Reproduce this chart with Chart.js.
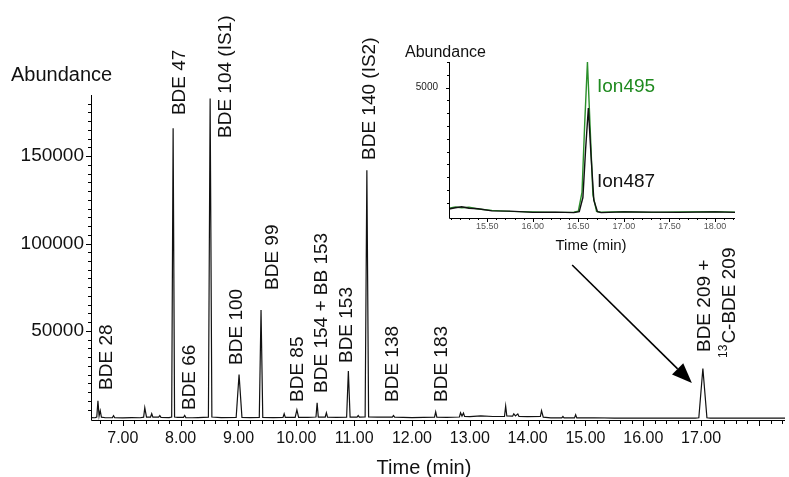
<!DOCTYPE html>
<html>
<head>
<meta charset="utf-8">
<script src="https://cdn.jsdelivr.net/npm/chart.js@4"></script>
<style>
  body { margin: 0; background: #fff; }
  #wrap { position: relative; width: 789px; height: 477px; }
  #mainChart { position: absolute; left: 0; top: 0; }
  #insetChart { position: absolute; left: 400px; top: 30px; }
</style>
</head>
<body>
<div id="wrap">
  <canvas id="mainChart" width="789" height="477"></canvas>
  <canvas id="insetChart" width="345" height="230"></canvas>
</div>
<script>
// main chromatogram (time in min, abundance)
const mainTimes = [
  6.45, 6.52, 6.55, 6.57, 6.59, 6.61, 6.63, 6.70, 6.82, 6.84, 6.86, 7.00, 7.15, 7.30, 7.36, 7.38, 7.41,
  7.48, 7.50, 7.52, 7.62, 7.64, 7.66, 7.80, 7.845, 7.87, 7.895, 7.95, 8.05, 8.07, 8.09, 8.20, 8.30,
  8.48, 8.51, 8.54, 8.70, 8.96, 9.01, 9.06, 9.20, 9.36, 9.39, 9.42, 9.60, 9.77, 9.79, 9.81, 9.98,
  10.01, 10.04, 10.20, 10.34, 10.36, 10.38, 10.50, 10.52, 10.54, 10.70, 10.87, 10.90, 10.93, 11.05,
  11.07, 11.09, 11.19, 11.22, 11.25, 11.40, 11.66, 11.68, 11.70, 12.00, 12.20, 12.39, 12.41, 12.43,
  12.60, 12.82, 12.84, 12.865, 12.89, 12.91, 13.00, 13.19, 13.40, 13.60, 13.62, 13.64, 13.74, 13.76,
  13.79, 13.83, 13.85, 14.00, 14.22, 14.24, 14.27, 14.40, 14.59, 14.61, 14.63, 14.81, 14.83, 14.85,
  15.15, 15.50, 16.00, 16.50, 16.90, 16.96, 17.03, 17.10, 17.16, 17.60, 18.00, 18.45
];
const mainAbundance = [
  400, 300, 700, 10000, 1300, 4300, 600, 300, 400, 1500, 300, 200, 400, 300, 600, 6000, 700,
  700, 2600, 600, 600, 1500, 500, 400, 700, 166000, 700, 500, 500, 1600, 400, 300, 400,
  600, 183000, 700, 400, 500, 25000, 500, 400, 500, 62000, 500, 400, 500, 2600, 500, 500,
  4800, 500, 500, 700, 8800, 700, 700, 3100, 600, 500, 600, 27000, 600, 600,
  1500, 600, 700, 142000, 800, 600, 600, 1500, 600, 400, 500, 600, 3700, 600,
  500, 700, 3100, 1300, 3000, 1000, 900, 1400, 1000, 1100, 7000, 1300, 1200, 2500,
  1300, 2500, 1000, 900, 1000, 4300, 600, 200, 200, 1000, 200, 200, 2000, 200,
  300, 100, 100, 100, 100, 300, 28500, 300, 100, 100, 100, 100
];
const timeTicks = [7, 8, 9, 10, 11, 12, 13, 14, 15, 16, 17];
const abundanceTicks = [50000, 100000, 150000];

// inset: extracted ions around BDE 209
const ion495Times = [15.08, 15.15, 15.22, 15.30, 15.40, 15.55, 15.75, 16.00, 16.25, 16.45, 16.50, 16.54, 16.57, 16.60, 16.63, 16.66, 16.70, 16.75, 17.00, 17.30, 17.60, 18.00, 18.22];
const ion495Abundance = [280, 330, 300, 320, 250, 200, 160, 140, 120, 130, 170, 900, 3600, 6000, 3400, 800, 160, 130, 150, 120, 140, 150, 130];
const ion487Times = [15.08, 15.15, 15.22, 15.30, 15.40, 15.55, 15.75, 16.00, 16.25, 16.45, 16.51, 16.55, 16.58, 16.61, 16.64, 16.67, 16.71, 16.75, 17.00, 17.30, 17.60, 18.00, 18.22];
const ion487Abundance = [250, 300, 340, 280, 260, 180, 170, 120, 130, 110, 150, 700, 2600, 4200, 2300, 600, 150, 110, 140, 130, 120, 140, 120];
const insetTimeTicks = [15.5, 16, 16.5, 17, 17.5, 18];
const insetAbundanceTicks = [5000];

// peak names and where their (rotated) text starts, in data units
const peakLabels = [
  { text: 'BDE 28', t: 6.727, v: 16200 },
  { text: 'BDE 47', t: 7.989, v: 173500 },
  { text: 'BDE 66', t: 8.162, v: 4700 },
  { text: 'BDE 104 (IS1)', t: 8.784, v: 160400 },
  { text: 'BDE 100', t: 8.975, v: 30500 },
  { text: 'BDE 99', t: 9.597, v: 73400 },
  { text: 'BDE 85', t: 10.03, v: 9300 },
  { text: 'BDE 154 + BB 153', t: 10.44, v: 14500 },
  { text: 'BDE 153', t: 10.877, v: 31600 },
  { text: 'BDE 140 (IS2)', t: 11.274, v: 147800 },
  { text: 'BDE 138', t: 11.672, v: 9300 },
  { text: 'BDE 183', t: 12.52, v: 9300 },
  { text: 'BDE 209 +', t: 17.067, v: 37900 }
];
const arrowFrom = { t: 14.77, v: 87700 };
const arrowTo = { t: 16.84, v: 20200 };

const FONT = '"Liberation Sans", Arial, Helvetica, sans-serif';

function vtext(ctx, text, x, y, size) {
  ctx.save();
  ctx.translate(x, y);
  ctx.rotate(-Math.PI / 2);
  ctx.font = size + 'px ' + FONT;
  ctx.textAlign = 'left';
  ctx.textBaseline = 'middle';
  ctx.fillText(text, 0, 0);
  ctx.restore();
}

const mainDecor = {
  id: 'mainDecor',
  afterDraw(chart) {
    const { ctx, chartArea: a, scales: { x, y } } = chart;
    ctx.save();
    ctx.strokeStyle = '#000';
    ctx.lineWidth = 1;
    ctx.beginPath();
    ctx.moveTo(a.left + 0.5, a.top);
    ctx.lineTo(a.left + 0.5, a.bottom + 0.5);
    ctx.lineTo(a.right, a.bottom + 0.5);
    ctx.stroke();
    // minor ticks
    ctx.beginPath();
    for (let k = 33; k <= 92; k++) {
      const px = Math.round(x.getPixelForValue(k * 0.2)) + 0.5;
      const len = k % 5 === 0 ? 6 : 4;
      ctx.moveTo(px, a.bottom);
      ctx.lineTo(px, a.bottom + len);
    }
    for (let k = 1; k <= 36; k++) {
      const py = Math.round(y.getPixelForValue(k * 5000)) + 0.5;
      const len = k % 10 === 0 ? 5 : 3;
      ctx.moveTo(a.left, py);
      ctx.lineTo(a.left - len, py);
    }
    ctx.stroke();

    ctx.fillStyle = '#111';
    ctx.font = '20px ' + FONT;
    ctx.textBaseline = 'middle';
    ctx.textAlign = 'left';
    ctx.fillText('Abundance', 11, a.top - 20);
    ctx.textAlign = 'center';
    ctx.fillText('Time (min)', 424, 468);

    peakLabels.forEach(p => {
      vtext(ctx, p.text, x.getPixelForValue(p.t), y.getPixelForValue(p.v), 19);
    });
    // 13C-BDE 209 with superscript
    const cx = x.getPixelForValue(17.5), by = y.getPixelForValue(34500);
    ctx.save();
    ctx.translate(cx, by);
    ctx.rotate(-Math.PI / 2);
    ctx.textAlign = 'left';
    ctx.textBaseline = 'middle';
    ctx.font = '12px ' + FONT;
    ctx.fillText('13', 0, -6);
    const w = ctx.measureText('13').width;
    ctx.font = '19px ' + FONT;
    ctx.fillText('C-BDE 209', w + 1, 0);
    ctx.restore();

    // arrow to BDE 209 peak
    const x0 = x.getPixelForValue(arrowFrom.t), y0 = y.getPixelForValue(arrowFrom.v);
    const x1 = x.getPixelForValue(arrowTo.t), y1 = y.getPixelForValue(arrowTo.v);
    const ang = Math.atan2(y1 - y0, x1 - x0);
    const hl = 20, hw = 8;
    const bx = x1 - hl * Math.cos(ang), bY = y1 - hl * Math.sin(ang);
    ctx.strokeStyle = '#000';
    ctx.lineWidth = 1.6;
    ctx.beginPath();
    ctx.moveTo(x0, y0);
    ctx.lineTo(bx, bY);
    ctx.stroke();
    ctx.fillStyle = '#000';
    ctx.beginPath();
    ctx.moveTo(x1, y1);
    ctx.lineTo(bx + hw * Math.sin(ang), bY - hw * Math.cos(ang));
    ctx.lineTo(bx - hw * Math.sin(ang), bY + hw * Math.cos(ang));
    ctx.closePath();
    ctx.fill();
    ctx.restore();
  }
};

new Chart(document.getElementById('mainChart'), {
  type: 'line',
  data: {
    datasets: [{
      data: mainTimes.map((t, i) => ({ x: t, y: mainAbundance[i] })),
      borderColor: '#111',
      borderWidth: 1.2,
      pointRadius: 0,
      tension: 0
    }]
  },
  options: {
    responsive: false,
    animation: false,
    layout: { padding: { left: 0, top: 95, right: 4, bottom: 0 } },
    plugins: { legend: { display: false }, tooltip: { enabled: false } },
    scales: {
      x: {
        type: 'linear', min: 6.45, max: 18.45,
        grid: { display: false, drawTicks: false },
        border: { display: false },
        afterFit: s => { s.height = 57; },
        afterBuildTicks: s => { s.ticks = timeTicks.map(v => ({ value: v })); },
        ticks: {
          autoSkip: false, maxRotation: 0, padding: 9,
          color: '#111', font: { family: FONT, size: 16 },
          callback: v => Number(v).toFixed(2)
        }
      },
      y: {
        min: -1000, max: 185000,
        grid: { display: false, drawTicks: false },
        border: { display: false },
        afterFit: s => { s.width = 91; },
        afterBuildTicks: s => { s.ticks = abundanceTicks.map(v => ({ value: v })); },
        ticks: {
          padding: 7, autoSkip: false,
          color: '#111', font: { family: FONT, size: 19 },
          callback: v => String(v)
        }
      }
    }
  },
  plugins: [mainDecor]
});

const insetDecor = {
  id: 'insetDecor',
  afterDraw(chart) {
    const { ctx, chartArea: a, scales: { x, y } } = chart;
    ctx.save();
    ctx.strokeStyle = '#000';
    ctx.lineWidth = 1;
    ctx.beginPath();
    ctx.moveTo(a.left + 0.5, a.top);
    ctx.lineTo(a.left + 0.5, a.bottom + 0.5);
    ctx.lineTo(a.right, a.bottom + 0.5);
    ctx.stroke();
    ctx.beginPath();
    for (let k = 151; k <= 182; k++) {
      const px = Math.round(x.getPixelForValue(k * 0.1)) + 0.5;
      const len = k % 5 === 0 ? 4 : 2;
      ctx.moveTo(px, a.bottom);
      ctx.lineTo(px, a.bottom + len);
    }
    for (let k = 1; k <= 12; k++) {
      const py = Math.round(y.getPixelForValue(k * 500)) + 0.5;
      ctx.moveTo(a.left, py);
      ctx.lineTo(a.left - (k % 10 === 0 ? 3 : 2), py);
    }
    ctx.stroke();

    ctx.fillStyle = '#111';
    ctx.textBaseline = 'middle';
    ctx.textAlign = 'left';
    ctx.font = '16px ' + FONT;
    ctx.fillText('Abundance', 5, 23);
    ctx.textAlign = 'center';
    ctx.font = '15px ' + FONT;
    ctx.fillText('Time (min)', 191, 216);
    ctx.textAlign = 'left';
    ctx.font = '19px ' + FONT;
    ctx.fillStyle = '#1f8a1f';
    ctx.fillText('Ion495', 197, 57);
    ctx.fillStyle = '#111';
    ctx.fillText('Ion487', 197, 152);
    ctx.restore();
  }
};

new Chart(document.getElementById('insetChart'), {
  type: 'line',
  data: {
    datasets: [{
      label: 'Ion487',
      data: ion487Times.map((t, i) => ({ x: t, y: ion487Abundance[i] })),
      borderColor: '#111',
      borderWidth: 1.4,
      pointRadius: 0,
      tension: 0
    }, {
      label: 'Ion495',
      data: ion495Times.map((t, i) => ({ x: t, y: ion495Abundance[i] })),
      borderColor: '#2a8f2a',
      borderWidth: 1.4,
      pointRadius: 0,
      tension: 0
    }]
  },
  options: {
    responsive: false,
    animation: false,
    layout: { padding: { left: 0, top: 32, right: 10, bottom: 0 } },
    plugins: { legend: { display: false }, tooltip: { enabled: false } },
    scales: {
      x: {
        type: 'linear', min: 15.08, max: 18.22,
        grid: { display: false, drawTicks: false },
        border: { display: false },
        afterFit: s => { s.height = 42; },
        afterBuildTicks: s => { s.ticks = insetTimeTicks.map(v => ({ value: v })); },
        ticks: {
          autoSkip: false, maxRotation: 0, padding: 3,
          color: '#555', font: { family: FONT, size: 9 },
          callback: v => Number(v).toFixed(2)
        }
      },
      y: {
        min: -100, max: 6000,
        grid: { display: false, drawTicks: false },
        border: { display: false },
        afterFit: s => { s.width = 49; },
        afterBuildTicks: s => { s.ticks = insetAbundanceTicks.map(v => ({ value: v })); },
        ticks: {
          padding: 11, autoSkip: false,
          color: '#222', font: { family: FONT, size: 10 },
          callback: v => String(v)
        }
      }
    }
  },
  plugins: [insetDecor]
});
</script>
</body>
</html>
